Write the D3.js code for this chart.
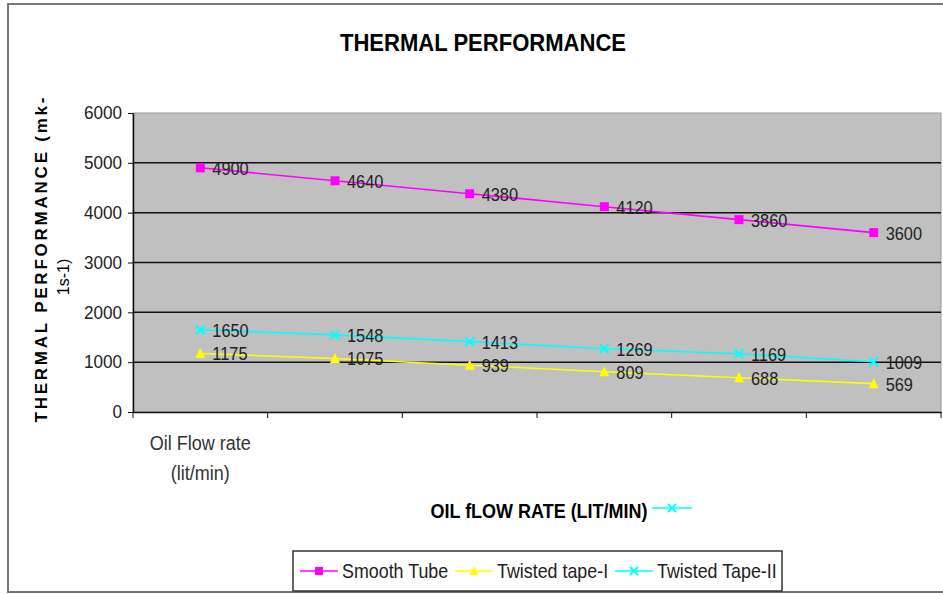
<!DOCTYPE html>
<html>
<head>
  <meta charset="utf-8">
  <style>
    body { margin: 0; background: #fff; }
    svg { font-family: "Liberation Sans", Arial, sans-serif; }
    .grid line { stroke: #111; stroke-width: 1.5; }
    .axis path, .axis line { stroke: #111; }
    .axis text { font-size: 18px; fill: #222; }
    .axis text.cat { font-size: 20px; fill: #333; }
    .lbl { font-size: 19px; fill: #222; }
  </style>
</head>
<body>
<svg width="943" height="594"></svg>
<script src="https://cdn.jsdelivr.net/npm/d3@7"></script>
<script>

  // categories (only the first carries a label in the original)
  var categories = ["Oil Flow rate|(lit/min)", "", "", "", "", ""]
  var smoothTube = [4900, 4640, 4380, 4120, 3860, 3600]
  var twistedTape1 = [1175, 1075, 939, 809, 688, 569]
  var twistedTape2 = [1650, 1548, 1413, 1269, 1169, 1009]
  var yTicks = [0, 1000, 2000, 3000, 4000, 5000, 6000]

  var series = [
    {name: "Smooth Tube", values: smoothTube, color: "#ff00ff", marker: "square"},
    {name: "Twisted tape-I", values: twistedTape1, color: "#ffff00", marker: "triangle"},
    {name: "Twisted Tape-II", values: twistedTape2, color: "#00ffff", marker: "x"}
  ]

  var svg = d3.select("svg")
  var margin = {left: 133, right: 2, top: 113, bottom: 182}
  var width = 943 - margin.left - margin.right,
      height = 594 - margin.top - margin.bottom

  // squeeze text horizontally, the original uses a narrow face
  function condense(sel, f) {
    sel.each(function() {
      var w = this.getComputedTextLength()
      d3.select(this).attr("textLength", w * f).attr("lengthAdjust", "spacingAndGlyphs")
    })
  }

  // outer frame
  svg.append("rect")
    .attr("x", 8).attr("y", 4)
    .attr("width", 960).attr("height", 588)
    .attr("fill", "none").attr("stroke", "#777").attr("stroke-width", 2)

  svg.append("text")
    .attr("x", 483).attr("y", 51)
    .attr("text-anchor", "middle")
    .attr("font-size", 24).attr("font-weight", "bold")
    .attr("textLength", 286).attr("lengthAdjust", "spacingAndGlyphs")
    .text("THERMAL PERFORMANCE")

  var x = d3.scaleBand()
    .domain(d3.range(categories.length))
    .range([0, width])

  var y = d3.scaleLinear()
    .domain([0, 6000])
    .range([height, 0])

  var g = svg.append("g")
    .attr("transform", "translate(" + margin.left + "," + margin.top + ")")

  g.append("rect")
    .attr("width", width).attr("height", height)
    .attr("fill", "#c0c0c0")
    .attr("stroke", "#999")

  g.append("g").attr("class", "grid")
    .selectAll("line")
    .data(yTicks.slice(1, -1))
    .enter().append("line")
    .attr("x1", 0).attr("x2", width)
    .attr("y1", function(d) { return y(d) })
    .attr("y2", function(d) { return y(d) })

  var gy = g.append("g").attr("class", "axis")
    .call(d3.axisLeft(y).tickValues(yTicks).tickFormat(d3.format("d"))
      .tickSize(5).tickSizeOuter(0).tickPadding(6))
  gy.select(".domain").attr("stroke-width", 1.5)
  condense(gy.selectAll("text"), 0.95)

  var gx = g.append("g").attr("class", "axis")
    .attr("transform", "translate(0," + height + ")")
    .call(d3.axisBottom(x).tickSize(0).tickFormat(""))
  gx.select(".domain").attr("stroke-width", 1.5)

  // band boundary ticks
  gx.selectAll(".bt")
    .data(d3.range(categories.length + 1))
    .enter().append("line")
    .attr("class", "bt")
    .attr("x1", function(d) { return d * x.bandwidth() })
    .attr("x2", function(d) { return d * x.bandwidth() })
    .attr("y1", 0).attr("y2", 6)
    .attr("stroke", "#111")

  // category labels (two lines)
  categories.forEach(function(c, i) {
    if (!c) return
    var t = gx.append("text")
      .attr("class", "cat")
      .attr("text-anchor", "middle")
      .attr("transform", "translate(" + (x(i) + x.bandwidth() / 2) + ",0)")
    c.split("|").forEach(function(s, k) {
      t.append("tspan").attr("x", 0).attr("y", 38 + k * 30).text(s)
    })
    condense(t.selectAll("tspan"), 0.9)
  })

  function drawMarker(sel, type, color, s) {
    if (type === "square") {
      sel.append("rect").attr("x", -s / 2).attr("y", -s / 2)
        .attr("width", s).attr("height", s).attr("fill", color)
    } else if (type === "triangle") {
      sel.append("path").attr("d", "M0," + (-s / 2 - 1) + "L" + (s / 2 + 0.5) + "," + (s / 2) + "L" + (-s / 2 - 0.5) + "," + (s / 2) + "Z")
        .attr("fill", color)
    } else {
      var h = s / 2
      sel.append("path").attr("d", "M" + (-h) + "," + (-h) + "L" + h + "," + h + "M" + h + "," + (-h) + "L" + (-h) + "," + h)
        .attr("stroke", color).attr("stroke-width", 2).attr("fill", "none")
    }
  }

  var line = d3.line()
    .x(function(d, i) { return x(i) + x.bandwidth() / 2 })
    .y(function(d) { return y(d) })

  series.forEach(function(s) {
    var sg = g.append("g")
    sg.append("path")
      .datum(s.values)
      .attr("d", line)
      .attr("fill", "none")
      .attr("stroke", s.color)
      .attr("stroke-width", 1.6)

    sg.selectAll(".pt")
      .data(s.values)
      .enter().append("g")
      .attr("class", "pt")
      .attr("transform", function(d, i) { return "translate(" + (x(i) + x.bandwidth() / 2) + "," + y(d) + ")" })
      .each(function() { drawMarker(d3.select(this), s.marker, s.color, 9) })

    var labels = sg.selectAll(".lbl")
      .data(s.values)
      .enter().append("text")
      .attr("class", "lbl")
      .attr("x", function(d, i) { return x(i) + x.bandwidth() / 2 + 12 })
      .attr("y", function(d) { return y(d) + 7 })
      .text(function(d) { return d })
    condense(labels, 0.86)
  })

  // y axis title
  var yt = svg.append("text")
    .attr("transform", "translate(0,260) rotate(-90)")
    .attr("text-anchor", "middle")
    .attr("font-weight", "bold")
  yt.append("tspan").attr("x", 0).attr("y", 47)
    .attr("font-size", 17)
    .attr("textLength", 325).attr("lengthAdjust", "spacing")
    .text("THERMAL PERFORMANCE (mk-")
  yt.append("tspan").attr("x", -17).attr("y", 69)
    .attr("font-size", 16).attr("font-weight", "normal")
    .text("1s-1)")

  // x axis title with the stray legend key next to it
  svg.append("text")
    .attr("x", 539).attr("y", 518)
    .attr("text-anchor", "middle")
    .attr("font-size", 20).attr("font-weight", "bold")
    .attr("textLength", 217).attr("lengthAdjust", "spacingAndGlyphs")
    .text("OIL fLOW RATE (LIT/MIN)")
  svg.append("line")
    .attr("x1", 652).attr("x2", 692).attr("y1", 508).attr("y2", 508)
    .attr("stroke", "#00ffff").attr("stroke-width", 1.6)
  drawMarker(svg.append("g").attr("transform", "translate(672,508)"), "x", "#00ffff", 8)

  // legend
  var lg = svg.append("g")
  lg.append("rect")
    .attr("x", 293).attr("y", 551).attr("width", 489).attr("height", 40)
    .attr("fill", "#fff").attr("stroke", "#333").attr("stroke-width", 1.5)
  var legendX = [300, 455, 615]
  series.forEach(function(s, i) {
    var it = lg.append("g").attr("transform", "translate(" + legendX[i] + ",571)")
    it.append("line").attr("x1", 0).attr("x2", 38)
      .attr("stroke", s.color).attr("stroke-width", 1.6)
    drawMarker(it.append("g").attr("transform", "translate(19,0)"), s.marker, s.color, 8)
    condense(it.append("text").attr("x", 42).attr("y", 7)
      .attr("font-size", 21).attr("fill", "#222")
      .text(s.name), 0.85)
  })

</script>
</body>
</html>
